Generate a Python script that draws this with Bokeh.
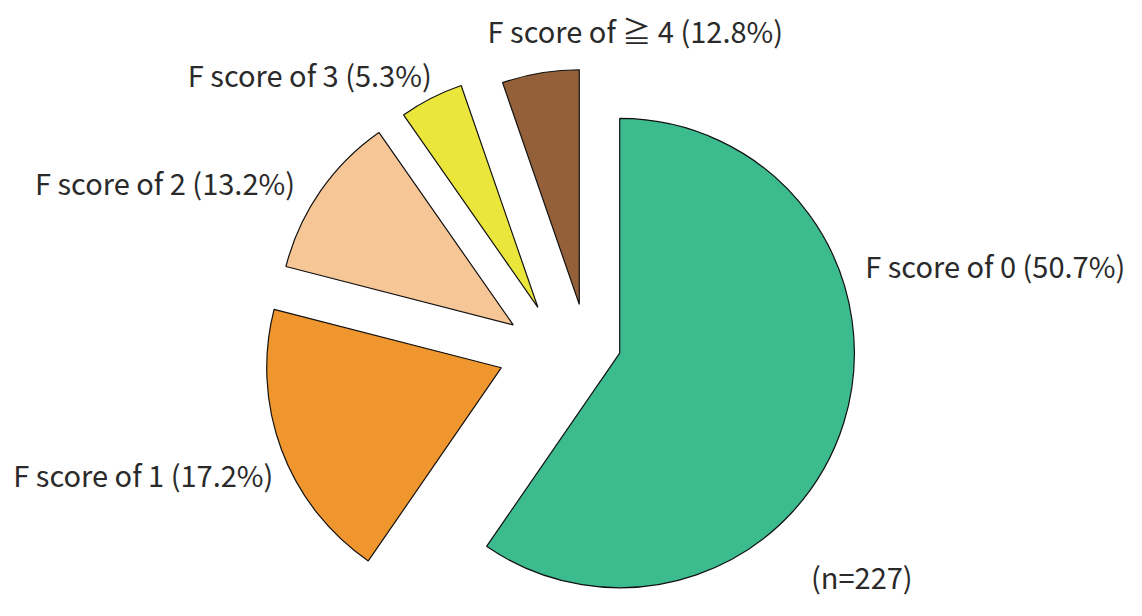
import math
from bokeh.plotting import figure
from bokeh.models import ColumnDataSource, Range1d
from bokeh.core.properties import value
from bokeh.embed import file_html
from bokeh.resources import INLINE

# ---- data ----
categories = ["F score of 0", "F score of 1", "F score of 2", "F score of 3", "F score of \u2267 4"]
label_pct = [50.7, 17.2, 13.2, 5.3, 12.8]      # percentages printed in the labels
drawn_share = [59.6, 19.4, 11.3, 4.4, 5.3]      # slice sizes as drawn in the picture (%)
n_total = 227

# ---- style ----
colors = ["#3cbb8e", "#f0962e", "#f6c697", "#ebe63c", "#93603a"]
pie_center = (580, 350)            # reference pixels (x right, y down)
radius = 238
explode_px = [(48, 12), (-72, 27), (-60, -17), (-35, -35), (7, -38)]
label_pos = [(877, 272), (13, 486), (35, 186), (190, 75), (494, 30)]
note_pos = (822, 591)
font = "Noto Sans CJK JP"
font_size = "29px"
text_color = "#2a2a2a"

REF_W, REF_H = 1142, 616
W, H = 1126, 600
p = figure(width=W, height=H, output_backend="svg", toolbar_location=None,
           x_range=Range1d(0, REF_W), y_range=Range1d(-REF_H, 0),
           min_border=0, min_border_left=0, min_border_right=0,
           min_border_top=0, min_border_bottom=0)
p.axis.visible = False
p.xgrid.visible = False
p.ygrid.visible = False
p.outline_line_color = None
p.background_fill_color = "white"
p.border_fill_color = "white"

# slices, clockwise from 12 o'clock
total = sum(drawn_share)
xs, ys, sa, ea = [], [], [], []
cum = 0.0
for share, (dx, dy) in zip(drawn_share, explode_px):
    th_s = cum / total * 360.0
    cum += share
    th_e = cum / total * 360.0
    xs.append(pie_center[0] + dx)
    ys.append(-(pie_center[1] + dy))
    sa.append(math.radians(90 - th_e))
    ea.append(math.radians(90 - th_s))

src = ColumnDataSource(dict(x=xs, y=ys, start=sa, end=ea, color=colors))
p.wedge(x="x", y="y", radius=radius, start_angle="start", end_angle="end",
        direction="anticlock", fill_color="color", line_color="#111111",
        line_width=1.2, source=src)

labels = [f"{c} ({v}%)" for c, v in zip(categories, label_pct)]
lsrc = ColumnDataSource(dict(x=[lx for lx, ly in label_pos],
                             y=[-ly for lx, ly in label_pos],
                             text=labels))
p.text(x="x", y="y", text="text", source=lsrc, text_align="left",
       text_baseline="middle", text_font=value(font), text_font_size=font_size,
       text_color=text_color)

p.text(x=[note_pos[0]], y=[-note_pos[1]], text=[f"(n={n_total})"],
       text_align="left", text_baseline="middle", text_font=value(font),
       text_font_size=font_size, text_color=text_color)

open("out.html", "w").write(file_html(p, INLINE))
